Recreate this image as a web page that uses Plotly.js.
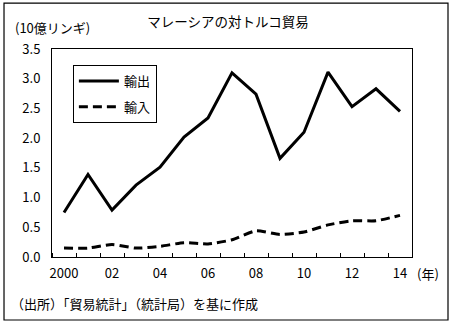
<!DOCTYPE html>
<html><head><meta charset="utf-8">
<script src="https://cdn.plot.ly/plotly-3.0.1.min.js"></script>
<style>html,body{margin:0;padding:0;background:#fff;}#chart{width:456px;height:325px;}</style>
</head><body><div id="chart"></div>
<script>
const years = [2000,2001,2002,2003,2004,2005,2006,2007,2008,2009,2010,2011,2012,2013,2014];
const exportsVals = [0.75,1.39,0.79,1.21,1.51,2.02,2.34,3.10,2.74,1.66,2.10,3.11,2.53,2.83,2.45];
const importsVals = [0.15,0.15,0.21,0.15,0.18,0.24,0.22,0.29,0.44,0.38,0.42,0.54,0.61,0.61,0.70];
const xTickVals = [2000,2002,2004,2006,2008,2010,2012,2014];
const xTickText = ["2000","02","04","06","08","10","12","14"];
const seriesNames = ["輸出","輸入"];

const F = '"Noto Sans CJK JP", "Noto Sans", sans-serif';
const traces = [
  {x: years, y: exportsVals, name: seriesNames[0], type: 'scatter', mode: 'lines',
   line: {color: '#000', width: 3}, legendgroup: 'a'},
  {x: years, y: importsVals, name: seriesNames[1], type: 'scatter', mode: 'lines',
   line: {color: '#000', width: 3, dash: '9px,5px', shape: 'spline', smoothing: 0.6}, legendgroup: 'b'}
];
const layout = {
  width: 456, height: 325,
  margin: {l: 52, r: 44, t: 49, b: 68},
  paper_bgcolor: '#fff', plot_bgcolor: '#fff',
  font: {family: F, size: 13, color: '#000'},
  title: {text: 'マレーシアの対トルコ貿易', x: 0.5, xanchor: 'center', y: 0.93, yanchor: 'middle', font: {family: F, size: 13.5, color: '#000'}},
  xaxis: {range: [1999.5, 2014.5], tickmode: 'array', tickvals: xTickVals, ticktext: xTickText,
    ticks: '', showgrid: false, zeroline: false, showline: true, linecolor: '#000', linewidth: 1, mirror: true,
    tickfont: {family: F, size: 13}, ticklabelstandoff: 4,
    minor: {tick0: 1999.5, dtick: 1, ticks: 'inside', ticklen: 4, tickcolor: '#000', tickwidth: 1, showgrid: false}},
  yaxis: {range: [0, 3.5], dtick: 0.5, tickformat: '.1f', ticks: '', showgrid: false, zeroline: false,
    showline: true, linecolor: '#000', linewidth: 1, mirror: true, tickfont: {family: F, size: 13}, ticklabelstandoff: 8},
  showlegend: true,
  legend: {x: 0.058, y: 0.923, xanchor: 'left', yanchor: 'top', bordercolor: '#000', borderwidth: 1,
    bgcolor: '#fff', font: {family: F, size: 13}, tracegroupgap: 6, itemwidth: 40, entrywidth: 85},
  annotations: [
    {text: '(10億リンギ)', xref: 'paper', yref: 'paper', x: -0.108, y: 1.105, xanchor: 'left', yanchor: 'middle', showarrow: false, font: {family: F, size: 13}},
    {text: '(年)', xref: 'paper', yref: 'paper', x: 1.008, y: -0.08, xanchor: 'left', yanchor: 'middle', showarrow: false, font: {family: F, size: 13}},
    {text: '（出所）「貿易統計」（統計局）を基に作成', xref: 'paper', yref: 'paper', x: -0.12, y: -0.222, xanchor: 'left', yanchor: 'middle', showarrow: false, font: {family: F, size: 13}}
  ],
  shapes: [
    {type: 'rect', xref: 'paper', yref: 'paper', x0: -0.1333, x1: 1.1, y0: -0.303, y1: 1.221, line: {color: '#000', width: 1.2}, fillcolor: 'rgba(0,0,0,0)', layer: 'below'}
  ]
};
Plotly.newPlot('chart', traces, layout, {displayModeBar: false, staticPlot: true});
</script></body></html>
